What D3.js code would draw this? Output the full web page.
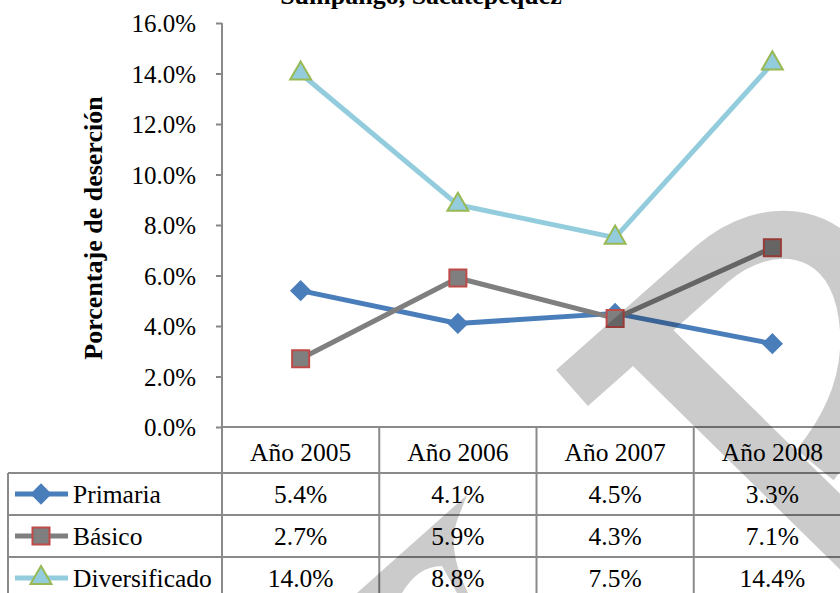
<!DOCTYPE html>
<html>
<head>
<meta charset="utf-8">
<script src="https://cdn.jsdelivr.net/npm/d3@7"></script>
<style>
  body { margin: 0; background: #fff; }
</style>
</head>
<body>
<svg id="chart" width="840" height="593"></svg>
<script>
// data
var years = ["Año 2005", "Año 2006", "Año 2007", "Año 2008"];
var primaria = [5.4, 4.1, 4.5, 3.3];
var basico = [2.7, 5.9, 4.3, 7.1];
var diversificado = [14.0, 8.8, 7.5, 14.4];
var seriesNames = ["Primaria", "Básico", "Diversificado"];
var yTicks = [0, 2, 4, 6, 8, 10, 12, 14, 16];

var serif = "'Liberation Serif', 'Times New Roman', serif";

var svg = d3.select("#chart").attr("font-family", serif);

var x = d3.scaleBand().domain(years).range([222, 851]).padding(0);
var y = d3.scaleLinear().domain([0, 16]).range([427, 23]);

var series = [
  { name: seriesNames[0], values: primaria, line: "#4a7ebb", fill: "#4a7ebb", stroke: "#4a7ebb", shape: d3.symbolSquare, rot: 45, size: 170 },
  { name: seriesNames[1], values: basico, line: "#7f7f7f", fill: "#7f7f7f", stroke: "#be4b48", shape: d3.symbolSquare, rot: 0, size: 290 },
  { name: seriesNames[2], values: diversificado, line: "#93cddd", fill: "#93cddd", stroke: "#98b954", shape: d3.symbolTriangle, rot: 0, size: 190 }
];

// title (cut by the top edge, as in the original)
svg.append("text")
    .attr("x", 421)
    .attr("y", 4)
    .attr("text-anchor", "middle")
    .attr("font-size", 26)
    .attr("font-weight", "bold")
    .text("Sumpango, Sacatepéquez");

// y axis
var yAxis = d3.axisLeft(y)
    .tickValues(yTicks)
    .tickSize(6)
    .tickFormat(function(d) { return d.toFixed(1) + "%"; });

var gy = svg.append("g")
    .attr("transform", "translate(222,0)")
    .call(yAxis)
    .attr("font-family", serif)
    .attr("font-size", 25);
gy.select(".domain").remove();
gy.selectAll(".tick line").attr("stroke", "#868686").attr("stroke-width", 2);
gy.selectAll(".tick text")
    .attr("x", -26)
    .attr("dy", "0.35em")
    .attr("fill", "#000");

svg.append("text")
    .attr("transform", "translate(102,228) rotate(-90)")
    .attr("text-anchor", "middle")
    .attr("font-size", 26)
    .attr("font-weight", "bold")
    .text("Porcentaje de deserción");

// data table grid
var rowY = [427, 473, 515, 557, 599];
var grid = svg.append("g").attr("stroke", "#8a8a8a").attr("stroke-width", 2);
grid.append("line").attr("x1", 222).attr("x2", 222).attr("y1", y(16)).attr("y2", 600);
grid.append("line").attr("x1", 222).attr("x2", 851).attr("y1", rowY[0]).attr("y2", rowY[0]);
rowY.slice(1).forEach(function(r) {
  grid.append("line").attr("x1", 8).attr("x2", 851).attr("y1", r).attr("y2", r);
});
grid.append("line").attr("x1", 8).attr("x2", 8).attr("y1", rowY[1]).attr("y2", 600);
years.slice(1).forEach(function(yr) {
  grid.append("line").attr("x1", x(yr)).attr("x2", x(yr)).attr("y1", rowY[0]).attr("y2", 600);
});

// header
svg.append("g").selectAll("text")
  .data(years)
  .join("text")
    .attr("x", function(d) { return x(d) + x.bandwidth() / 2; })
    .attr("y", 461)
    .attr("text-anchor", "middle")
    .attr("font-size", 25.5)
    .text(function(d) { return d; });

// lines and markers
var line = d3.line()
    .x(function(d, i) { return x(years[i]) + x.bandwidth() / 2; })
    .y(function(d) { return y(d); });

series.forEach(function(s) {
  svg.append("path")
      .datum(s.values)
      .attr("d", line)
      .attr("fill", "none")
      .attr("stroke", s.line)
      .attr("stroke-width", 5)
      .attr("stroke-linejoin", "round");

  svg.append("g").selectAll("path")
    .data(s.values)
    .join("path")
      .attr("transform", function(d, i) {
        return "translate(" + (x(years[i]) + x.bandwidth() / 2) + "," + y(d) + ") rotate(" + s.rot + ")";
      })
      .attr("d", d3.symbol().type(s.shape).size(s.size))
      .attr("fill", s.fill)
      .attr("stroke", s.stroke)
      .attr("stroke-width", 2);
});

// table rows: legend key + values
series.forEach(function(s, k) {
  var base = [503, 544.5, 586.5][k];
  var mid = (rowY[k + 1] + rowY[k + 2]) / 2;
  var g = svg.append("g").attr("font-size", 25.5);
  g.append("line")
      .attr("x1", 15).attr("x2", 68)
      .attr("y1", mid).attr("y2", mid)
      .attr("stroke", s.line).attr("stroke-width", 5);
  g.append("path")
      .attr("transform", "translate(41," + mid + ") rotate(" + s.rot + ")")
      .attr("d", d3.symbol().type(s.shape).size(s.size))
      .attr("fill", s.fill)
      .attr("stroke", s.stroke)
      .attr("stroke-width", 2);
  g.append("text")
      .attr("x", 73)
      .attr("y", base)
      .text(s.name);
  g.selectAll(".val")
    .data(s.values)
    .join("text")
      .attr("class", "val")
      .attr("x", function(d, i) { return x(years[i]) + x.bandwidth() / 2; })
      .attr("y", base)
      .attr("text-anchor", "middle")
      .text(function(d) { return d.toFixed(1) + "%"; });
});

// grey watermark over everything
var wm = svg.append("g").attr("opacity", 0.2);
wm.append("path")
    .attr("d", "M572,388 L712,264 C768,216 842,226 860,302 C874,365 852,420 815,465")
    .attr("fill", "none").attr("stroke", "#000").attr("stroke-width", 48);
wm.append("path")
    .attr("d", "M650,345 L930,620")
    .attr("fill", "none").attr("stroke", "#000").attr("stroke-width", 54);
wm.append("path")
    .attr("d", "M467,495 L357,593 L402,593 Q418,566 442,566 L457,593 L468,593 Q446,548 458,518 Z")
    .attr("fill", "#000");
</script>
</body>
</html>
